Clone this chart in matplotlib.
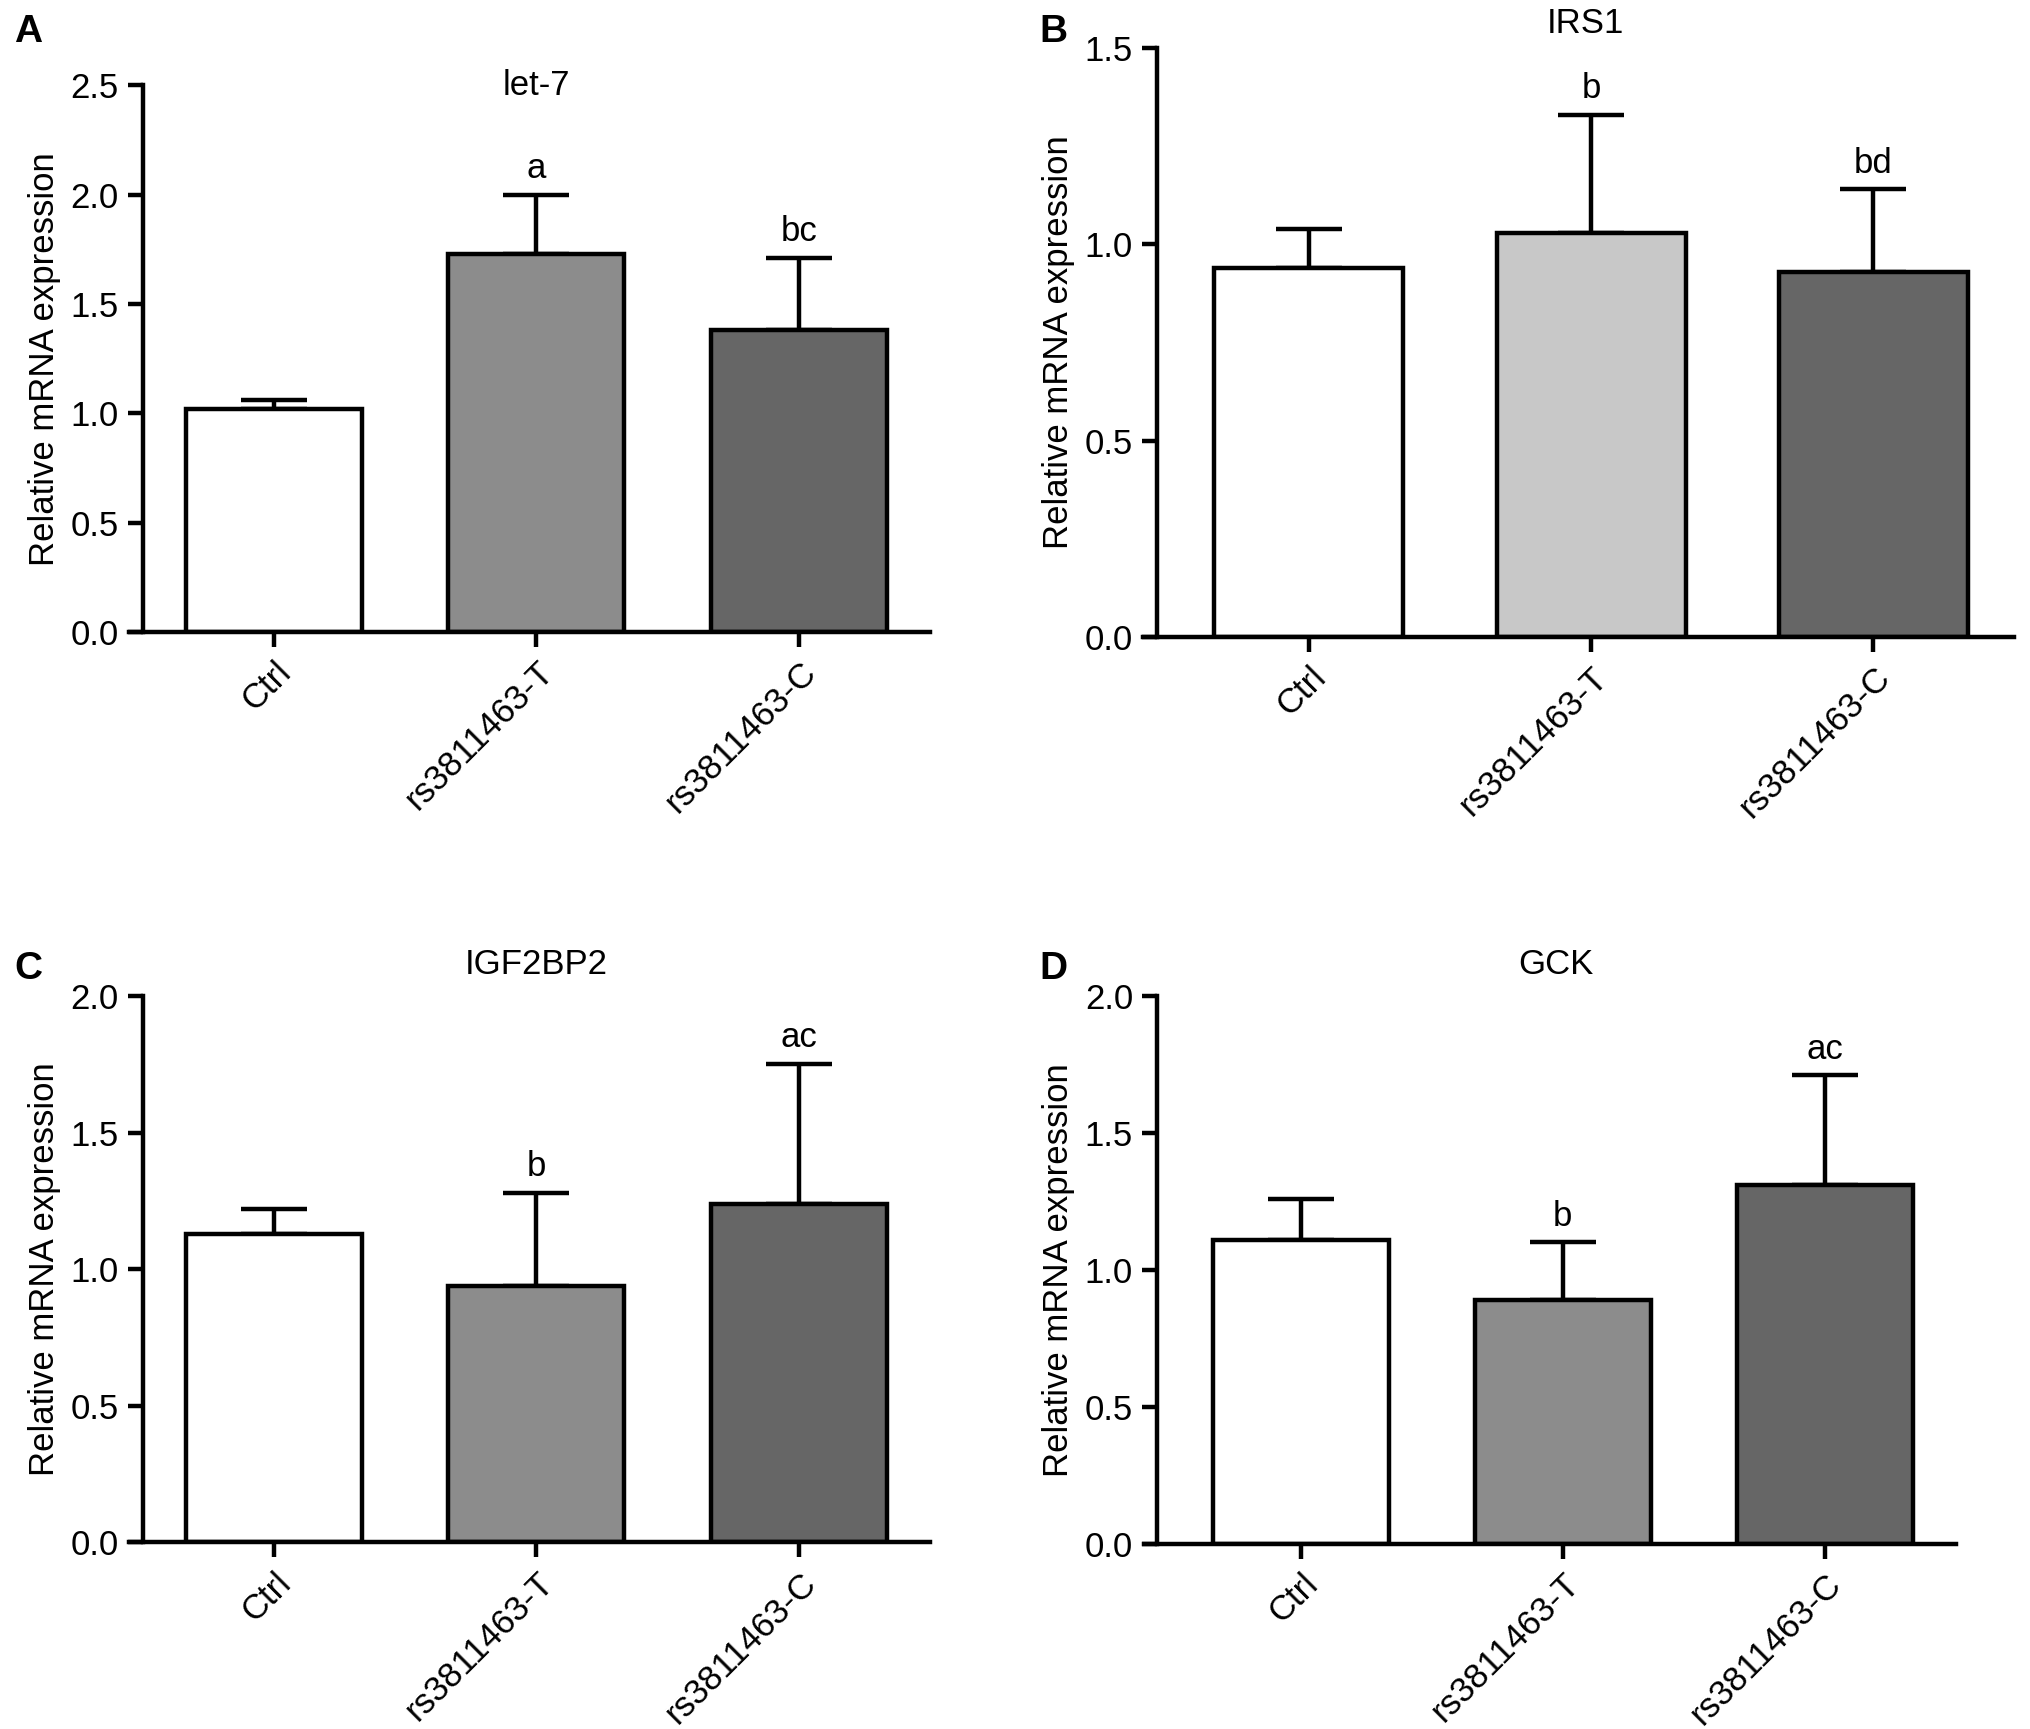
import matplotlib
matplotlib.use('Agg')
import matplotlib.pyplot as plt
import numpy as np

plt.rcParams['font.family'] = ['Liberation Sans', 'DejaVu Sans']
plt.rcParams['font.size'] = 25

groups = ['Ctrl', 'rs3811463-T', 'rs3811463-C']

titles = ['let-7', 'IRS1', 'IGF2BP2', 'GCK']
letters = ['A', 'B', 'C', 'D']

let7_mean = [1.02, 1.73, 1.38]
let7_err = [0.04, 0.27, 0.33]
let7_sig = ['', 'a', 'bc']

irs1_mean = [0.94, 1.03, 0.93]
irs1_err = [0.10, 0.30, 0.21]
irs1_sig = ['', 'b', 'bd']

igf2bp2_mean = [1.13, 0.94, 1.24]
igf2bp2_err = [0.09, 0.34, 0.51]
igf2bp2_sig = ['', 'b', 'ac']

gck_mean = [1.11, 0.89, 1.31]
gck_err = [0.15, 0.21, 0.40]
gck_sig = ['', 'b', 'ac']

ymax = [2.5, 1.5, 2.0, 2.0]

colors_std = ['white', '#8c8c8c', '#666666']
colors_b = ['white', '#c8c8c8', '#666666']

fig = plt.figure(figsize=(20.31, 17.29), dpi=100)

# axes boxes in figure fractions
boxes = [
    [0.0702, 0.6345, 0.3878, 0.3161],
    [0.5695, 0.6315, 0.4222, 0.3408],
    [0.0702, 0.1079, 0.3878, 0.3161],
    [0.5695, 0.1071, 0.3935, 0.3169],
]
xleft = [-0.5, -0.54, -0.5, -0.55]
title_y = [1.0, 1.042, 1.057, 1.057]
letter_pos = [(0.007, 0.992), (0.512, 0.992), (0.007, 0.450), (0.512, 0.450)]

means = [let7_mean, irs1_mean, igf2bp2_mean, gck_mean]
errs = [let7_err, irs1_err, igf2bp2_err, gck_err]
sigs = [let7_sig, irs1_sig, igf2bp2_sig, gck_sig]
cols = [colors_std, colors_b, colors_std, colors_std]

lw = 3.2
for i in range(4):
    ax = fig.add_axes(boxes[i])
    x = np.arange(len(groups))
    ax.bar(x, means[i], width=0.67, color=cols[i], edgecolor='black',
           linewidth=lw, zorder=2)
    ax.errorbar(x, means[i], yerr=[np.zeros(3), errs[i]], fmt='none',
                ecolor='black', elinewidth=lw, capsize=24, capthick=lw,
                zorder=1)
    for xi, m, e, s in zip(x, means[i], errs[i], sigs[i]):
        if s:
            ax.annotate(s, (xi, m + e), xytext=(0, 7),
                        textcoords='offset points', ha='center',
                        va='bottom', fontsize=25)
    ax.set_xlim(xleft[i], 2.5)
    ax.set_ylim(0, ymax[i])
    yt = np.arange(0, ymax[i] + 0.01, 0.5)
    ax.set_yticks(yt)
    ax.set_yticklabels([f'{v:.1f}' for v in yt])
    ax.set_xticks(x)
    ax.set_xticklabels(groups, rotation=45, ha='right',
                       rotation_mode='anchor')
    for sp in ['top', 'right']:
        ax.spines[sp].set_visible(False)
    for sp in ['left', 'bottom']:
        ax.spines[sp].set_linewidth(lw)
    ax.spines['bottom'].set_bounds(xleft[i] - 0.05, 2.5)
    ax.tick_params(axis='both', width=lw, length=11, direction='out',
                   labelsize=25, pad=6)
    ax.set_ylabel('Relative mRNA expression', fontsize=25, labelpad=7)
    ax.text(0.5, title_y[i], titles[i], transform=ax.transAxes,
            ha='center', va='center', fontsize=25)
    fig.text(letter_pos[i][0], letter_pos[i][1], letters[i], fontsize=28,
             fontweight='bold', va='top')

fig.savefig('out.png', dpi=100, facecolor='white')
